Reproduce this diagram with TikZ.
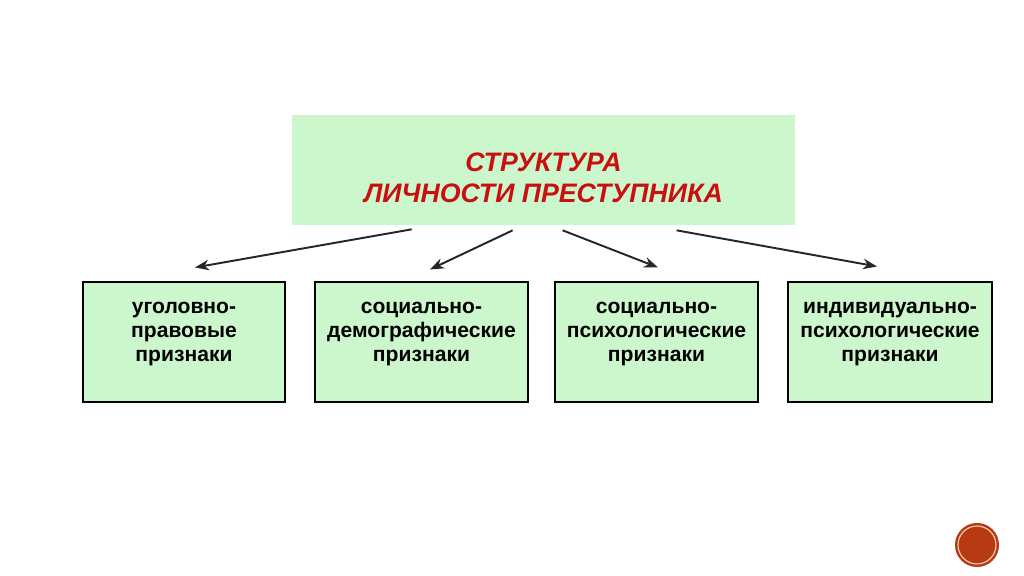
\documentclass[tikz,border=0pt]{standalone}
\usepackage{fontspec}
\setmainfont{Liberation Sans}
\usepackage{xcolor}
\usetikzlibrary{arrows.meta}
\definecolor{boxgreen}{RGB}{204,247,204}
\definecolor{titlered}{RGB}{200,16,16}
\definecolor{slidedot}{RGB}{184,58,18}
\definecolor{slidering}{RGB}{250,215,185}
\tikzset{
  topbox/.style = {fill=boxgreen, minimum width=10.06cm,
                   minimum height=2.2cm, inner sep=0pt},
  signbox/.style = {draw=black, line width=0.6pt, fill=boxgreen,
                    minimum height=2.4cm, inner sep=0pt},
  signtext/.style = {align=center, inner sep=0pt,
                     font=\bfseries\fontsize{12}{13.7}\selectfont},
  arr/.style = {-{Stealth[length=8pt, width=6pt]}, line width=1.1pt, color=black!85}
}

\begin{document}
\begin{tikzpicture}
	\useasboundingbox[fill=white] (0,0) rectangle (20.48,11.52);
	\def \by{4.68}  % centre line of the boxes
	\def \up{0.16}  % text sits high in the boxes
	
	% Title
	\node[topbox] (top) at (10.87,8.12) {};
	\node[align=center, text=titlered, font=\bfseries\itshape\fontsize{15.2}{17.6}\selectfont] (title) at ([yshift=-0.16cm]top) {СТРУКТУРА\\ЛИЧНОСТИ ПРЕСТУПНИКА};
	
	% Boxes
	\node[signbox, minimum width=4.04cm] (b1) at (3.68,\by)  {};
	\node[signbox, minimum width=4.26cm] (b2) at (8.43,\by)  {};
	\node[signbox, minimum width=4.06cm] (b3) at (13.13,\by) {};
	\node[signbox, minimum width=4.08cm] (b4) at (17.80,\by) {};
	
	\node[signtext] (t1) at ([yshift=\up cm]b1) {уголовно-\\правовые\\признаки};
	\node[signtext] (t2) at ([yshift=\up cm]b2) {социально-\\демографические\\признаки};
	\node[signtext] (t3) at ([yshift=\up cm]b3) {социально-\\психологические\\признаки};
	\node[signtext] (t4) at ([yshift=\up cm]b4) {индивидуально-\\психологические\\признаки};
	
	% Arrows
	\draw[arr] ([shift={(2.40,-0.08)}]top.south west) -- ([shift={(0.22,0.28)}]b1.north);
	\draw[arr] ([shift={(4.42,-0.10)}]top.south west) -- ([shift={(0.17,0.24)}]b2.north);
	\draw[arr] ([shift={(5.42,-0.10)}]top.south west) -- ([shift={(0.03,0.28)}]b3.north);
	\draw[arr] ([shift={(7.70,-0.10)}]top.south west) -- ([shift={(-0.26,0.30)}]b4.north);
	
	% Slide dot
	\fill[slidedot] (19.54,0.62) circle (0.44);
	\draw[slidering, line width=0.6pt] (19.54,0.62) circle (0.38);
	
\end{tikzpicture}
\end{document}
